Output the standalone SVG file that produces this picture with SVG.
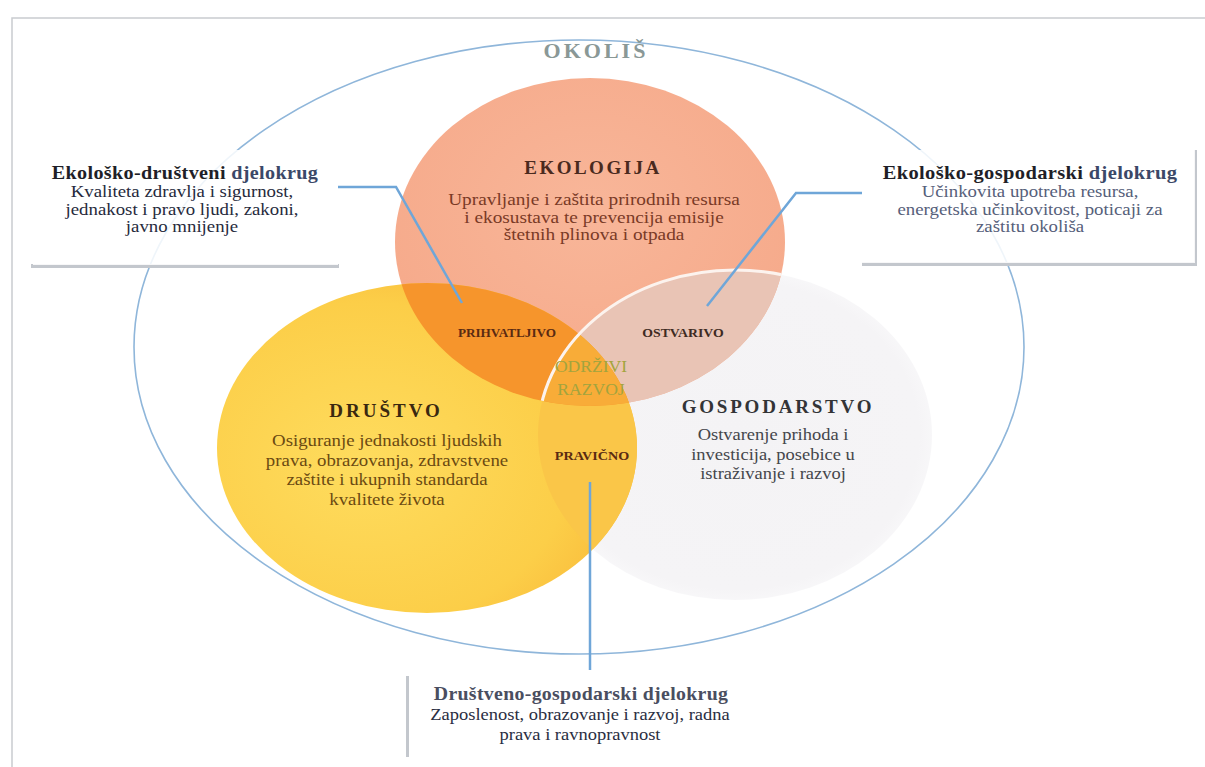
<svg xmlns="http://www.w3.org/2000/svg" width="1205" height="767" viewBox="0 0 1205 767">
<style>
.serif{font-family:"Liberation Serif","Times New Roman",serif}
.title{font-weight:bold;text-anchor:middle}
.body{font-size:16.8px;text-anchor:middle}
.head{font-size:18px;font-weight:bold;text-anchor:middle;letter-spacing:0.3px}
.tag{font-size:12px;font-weight:bold;text-anchor:middle;fill:#5a2a12}
.conn{fill:none;stroke:#6fa6d8;stroke-width:2.5}
.box{fill:#ffffff;fill-opacity:0.86}
.shadow{fill:#c3c7cd}
</style>
<defs>
<radialGradient id="gRed" cx="50%" cy="40%" r="62%">
<stop offset="0" stop-color="#f8b699"/>
<stop offset="0.85" stop-color="#f6ab8c"/>
<stop offset="1" stop-color="#f7b79c"/>
</radialGradient>
<radialGradient id="gYel" cx="35%" cy="55%" r="70%">
<stop offset="0" stop-color="#fedc5e"/>
<stop offset="0.7" stop-color="#fcce48"/>
<stop offset="1" stop-color="#f9b93a"/>
</radialGradient>
<radialGradient id="gGray" cx="50%" cy="50%" r="55%">
<stop offset="0" stop-color="#f4f3f5"/>
<stop offset="0.85" stop-color="#f5f4f6"/>
<stop offset="1" stop-color="#fbfbfc"/>
</radialGradient>
<clipPath id="cRed"><ellipse cx="590" cy="242" rx="195" ry="164"/></clipPath>
<clipPath id="cYel"><ellipse cx="427" cy="448" rx="210" ry="165"/></clipPath>
</defs>
<rect x="0" y="0" width="1205" height="767" fill="#ffffff"/>
<path d="M12,767 V18 H1205" fill="none" stroke="#c9ccd0" stroke-width="1.5"/>

<g id="node-okolis">
<ellipse cx="579" cy="347" rx="445" ry="307" fill="none" stroke="#8fb6da" stroke-width="1.6"/>
<text class="serif title" x="596" y="58" font-size="22" letter-spacing="3" fill="#8a9896">OKOLIŠ</text>
</g>

<g id="node-gospodarstvo">
<ellipse cx="735" cy="435" rx="197" ry="165" fill="url(#gGray)"/>
</g>
<g id="node-ekologija">
<ellipse cx="590" cy="242" rx="195" ry="164" fill="url(#gRed)"/>
</g>
<g id="node-drustvo">
<ellipse cx="427" cy="448" rx="210" ry="165" fill="url(#gYel)"/>
</g>

<g id="overlaps">
<g clip-path="url(#cRed)"><ellipse cx="735" cy="435" rx="197" ry="165" fill="#e9c4b5"/></g>
<g clip-path="url(#cYel)"><ellipse cx="735" cy="435" rx="197" ry="165" fill="#fac648"/></g>
<g clip-path="url(#cRed)"><ellipse cx="427" cy="448" rx="210" ry="165" fill="#f6952c"/></g>
<g clip-path="url(#cRed)"><g clip-path="url(#cYel)"><ellipse cx="735" cy="435" rx="197" ry="165" fill="#f8ac38"/></g></g>
<g clip-path="url(#cRed)"><ellipse cx="735" cy="435" rx="197" ry="165" fill="none" stroke="#fcf3ee" stroke-width="3"/></g>
</g>

<g id="labels">
<text class="serif title" x="593" y="174" font-size="19" letter-spacing="2.5" fill="#4a2a1e">EKOLOGIJA</text>
<text class="serif body" fill="#7a3a26" transform="translate(594 0) scale(1.15 1)"><tspan x="0" y="205">Upravljanje i zaštita prirodnih resursa</tspan><tspan x="0" y="223">i ekosustava te prevencija emisije</tspan><tspan x="0" y="240">štetnih plinova i otpada</tspan></text>

<text class="serif title" x="386" y="417" font-size="19" letter-spacing="3" fill="#3a2810">DRUŠTVO</text>
<text class="serif body" fill="#6b4a12" transform="translate(387 0) scale(1.12 1)"><tspan x="0" y="446">Osiguranje jednakosti ljudskih</tspan><tspan x="0" y="466">prava, obrazovanja, zdravstvene</tspan><tspan x="0" y="485">zaštite i ukupnih standarda</tspan><tspan x="0" y="505">kvalitete života</tspan></text>

<text class="serif title" x="778" y="413" font-size="19" letter-spacing="2.8" fill="#333436">GOSPODARSTVO</text>
<text class="serif body" fill="#44464b" transform="translate(773 0) scale(1.1 1)"><tspan x="0" y="440">Ostvarenje prihoda i</tspan><tspan x="0" y="460">investicija, posebice u</tspan><tspan x="0" y="479">istraživanje i razvoj</tspan></text>

<text class="serif tag" transform="translate(507 337) scale(1.1 1)">PRIHVATLJIVO</text>
<text class="serif tag" transform="translate(683 337) scale(1.15 1)" style="fill:#3e2a22">OSTVARIVO</text>
<text class="serif tag" transform="translate(592 460) scale(1.18 1)">PRAVIČNO</text>
<text class="serif" font-size="16" text-anchor="middle" fill="#a2a43e" transform="translate(591 0) scale(1.1 1)"><tspan x="0" y="372">ODRŽIVI</tspan><tspan x="0" y="395">RAZVOJ</tspan></text>
</g>

<g id="connectors">
<path class="conn" d="M338,187 H396 L462,303"/>
<path class="conn" d="M862,193 H796 L707,306"/>
<path class="conn" d="M590,482 V670"/>
</g>

<g id="callout-eko-drustveni">
<rect class="shadow" x="31" y="264" width="308" height="4"/>
<rect class="box" x="33" y="150" width="305" height="115"/>
<text class="serif head" fill="#1f1f28" transform="translate(185 179) scale(1.12 1)">Ekološko-društveni <tspan fill="#3b4868">djelokrug</tspan></text>
<text class="serif body" fill="#262a3c" transform="translate(182 0) scale(1.12 1)"><tspan x="0" y="197">Kvaliteta zdravlja i sigurnost,</tspan><tspan x="0" y="215">jednakost i pravo ljudi, zakoni,</tspan><tspan x="0" y="232">javno mnijenje</tspan></text>
</g>

<g id="callout-eko-gospodarski">
<rect class="shadow" x="862" y="262" width="335" height="4"/>
<rect class="shadow" x="1194" y="150" width="3" height="116"/>
<rect class="box" x="862" y="150" width="333" height="113"/>
<text class="serif head" fill="#1f1f28" transform="translate(1030 179) scale(1.14 1)">Ekološko-gospodarski <tspan fill="#3b4868">djelokrug</tspan></text>
<text class="serif body" fill="#56607a" transform="translate(1030 0) scale(1.12 1)"><tspan x="0" y="197">Učinkovita upotreba resursa,</tspan><tspan x="0" y="215">energetska učinkovitost, poticaji za</tspan><tspan x="0" y="232">zaštitu okoliša</tspan></text>
</g>

<g id="callout-drustveno-gospodarski">
<rect class="shadow" x="406" y="676" width="3" height="81"/>
<rect class="box" x="409" y="674" width="366" height="84"/>
<text class="serif head" fill="#4a4e60" transform="translate(581 700) scale(1.1 1)">Društveno-gospodarski djelokrug</text>
<text class="serif body" fill="#2a2e42" transform="translate(580 0) scale(1.1 1)"><tspan x="0" y="720">Zaposlenost, obrazovanje i razvoj, radna</tspan><tspan x="0" y="740">prava i ravnopravnost</tspan></text>
</g>
</svg>
